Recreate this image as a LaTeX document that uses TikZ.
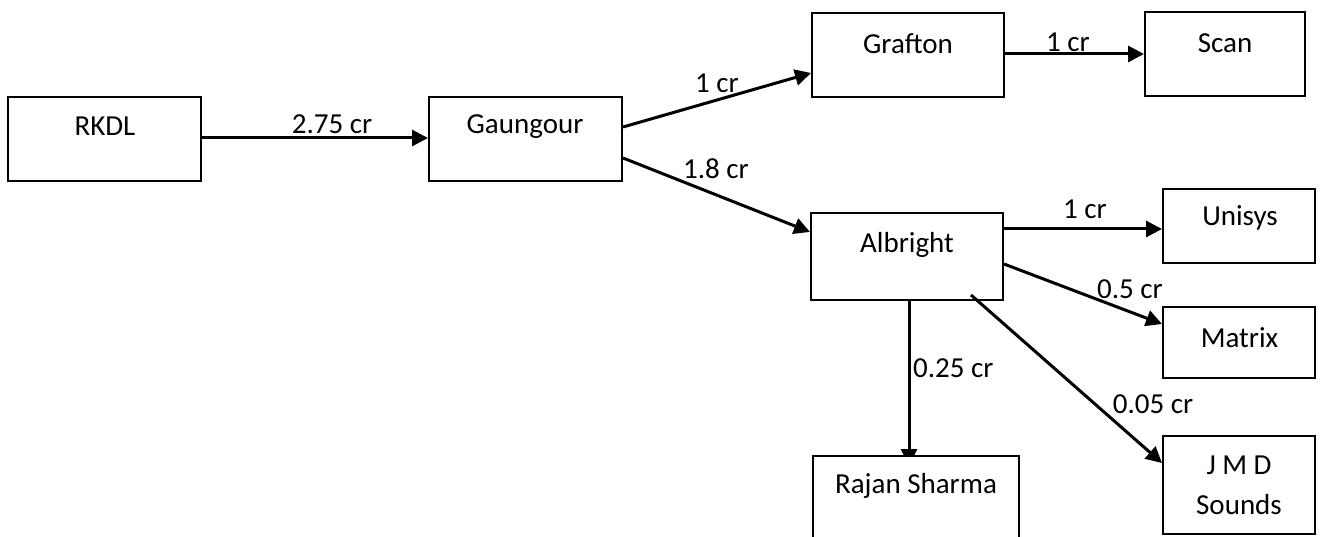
\documentclass[tikz,border=0pt]{standalone}
\usepackage{fontspec}
\setmainfont{Carlito}
\usetikzlibrary{arrows.meta,calc,backgrounds}
\begin{document}
\begin{tikzpicture}[x=1pt,y=-1pt,
  box/.style={draw=black,line width=2pt,rectangle,inner sep=0pt,fill=white},
  txt/.style={font=\fontsize{29}{35}\selectfont,inner sep=0pt,anchor=center},
  lbl/.style={font=\fontsize{29}{35}\selectfont,inner sep=0pt},
  arr/.style={line width=3pt,-{Triangle[length=16pt,width=16pt]}}]
\clip (0,0) rectangle (1321,537);
% boxes
\node[box,minimum width=193pt,minimum height=84pt] (rkdl) at (104.5,139) {};
\node[box,minimum width=193pt,minimum height=84pt] (gaungour) at (525.5,139) {};
\node[box,minimum width=192pt,minimum height=84pt] (grafton) at (908,55) {};
\node[box,minimum width=160pt,minimum height=84pt] (scan) at (1225,54) {};
\node[box,minimum width=192pt,minimum height=87pt] (albright) at (907,256.5) {};
\node[box,minimum width=152pt,minimum height=74pt] (unisys) at (1239,226) {};
\node[box,minimum width=152pt,minimum height=71pt] (matrix) at (1239,342.5) {};
\node[box,minimum width=152pt,minimum height=98pt] (jmd) at (1239,485) {};
\node[box,minimum width=206pt,minimum height=164pt] (rajan) at (916,538) {};
% connectors
\draw[arr] ($(rkdl.east)+(0,-1)$) -- ($(gaungour.west)+(0,-1)$);
\draw[arr] ($(gaungour.east)+(0,-12)$) -- ($(grafton.west)+(0,18)$);
\draw[arr] ($(gaungour.east)+(0,19)$) -- ($(albright.west)+(0,-24.5)$);
\draw[arr] ($(grafton.east)+(0,-1)$) -- ($(scan.west)+(0,0)$);
\draw[arr] ($(albright.east)+(0,-27.5)$) -- ($(unisys.west)+(0,3)$);
\draw[arr] ($(albright.east)+(0,7.5)$) -- ($(matrix.west)+(0,-18.5)$);
\draw[arr] ($(albright.center)+(64,38.5)$) -- ($(jmd.west)+(0,-22)$);
\begin{pgfonlayer}{background}
\fill[white] (0,0) rectangle (1321,537);
\draw[arr] ($(albright.south)+(2,0)$) coordinate (ars) -- ($(ars |- rajan.north)+(0,10)$);
\end{pgfonlayer}
% texts
\node[txt] (rkdl-t) at (105,126) {RKDL};
\node[txt] (gaungour-t) at (525,127) {Gaungour};
\node[txt] (grafton-t) at (908,44) {Grafton};
\node[txt] (scan-t) at (1225,43) {Scan};
\node[txt] (albright-t) at (907,245) {Albright};
\node[txt] (unisys-t) at (1240,218) {Unisys};
\node[txt] (matrix-t) at (1239.5,338) {Matrix};
\node[txt] (jmd-t1) at (1239,465) {J M D};
\node[txt] (jmd-t2) at (1239,505) {Sounds};
\node[txt] (rajan-t) at (916,486) {Rajan Sharma};
% labels
\node[lbl] (l1) at (332,124) {2.75 cr};
\node[lbl] (l2) at (717,83) {1 cr};
\node[lbl] (l3) at (716,168.5) {1.8 cr};
\node[lbl] (l4) at (1068,42) {1 cr};
\node[lbl] (l5) at (1085,209.5) {1 cr};
\node[lbl] (l6) at (1130,289) {0.5 cr};
\node[lbl,anchor=west] (l7) at (913,368) {0.25 cr};
\node[lbl] (l8) at (1153,404.5) {0.05 cr};
\end{tikzpicture}
\end{document}
